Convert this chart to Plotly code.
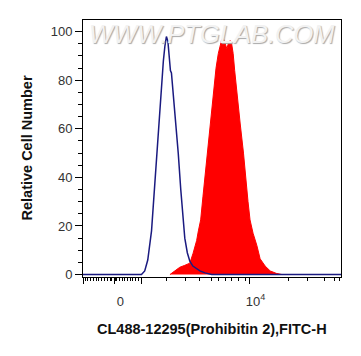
import plotly.graph_objects as go

# Display channel (0-1024 biexponential display) and relative cell number (%)
blue_channel = [0, 232, 245, 257, 272, 281, 294, 303, 312, 319, 325, 331, 337, 343, 347, 351, 357,
                365, 378, 388, 398, 404, 414, 424, 436, 448, 464, 484, 511, 1024]
blue_count = [0, 0, 1.5, 6, 18, 32, 50, 65, 77, 88, 94, 98, 96, 88, 84, 83, 76,
              65, 50, 35, 22.5, 15, 9, 5.5, 3.5, 2.5, 1.5, 0.7, 0, 0]

red_channel = [345, 365, 384, 404, 424, 437, 451, 458, 467, 476, 484, 493, 504, 512, 520, 528, 537,
               544, 550, 557, 564, 571, 578, 584, 590, 596, 602, 608, 616, 624, 637, 647, 655, 663,
               675, 690, 703, 723, 743, 767, 790]
red_count = [0, 1.5, 3, 3.8, 4.7, 8.8, 14, 18, 22.5, 32, 40, 50, 60, 70, 77.4, 85, 91,
             94, 96.5, 97.3, 95, 93, 95.5, 96.3, 95, 91, 84, 77.4, 70, 62, 50, 38, 30, 22.5,
             17, 12, 6.5, 3.5, 1.5, 0.5, 0]

x_label_vals = [124, 661]
x_label_text = ["0", "10<sup>4</sup>"]
x_unlabeled_major_vals = [0, 232]
x_minor_vals = [10, 19, 30, 42, 53, 63, 74, 86, 96, 108, 114, 128, 132, 143, 155, 165, 176, 188,
                198, 209, 221, 332, 407, 464, 511, 537, 564, 591, 617, 644, 814, 893, 959, 999, 1019]
y_major_vals = [0, 20, 40, 60, 80, 100]
y_major_text = ["0", "20", "40", "60", "80", "100"]

FONT = "Liberation Sans, Arial, sans-serif"

fig = go.Figure()
fig.add_trace(go.Scatter(x=red_channel, y=red_count, mode="lines", fill="tozeroy",
                         line=dict(color="#ff0000", width=1), fillcolor="#ff0000",
                         hoverinfo="skip", showlegend=False))
fig.add_trace(go.Scatter(x=blue_channel, y=blue_count, mode="lines",
                         line=dict(color="#1a1a80", width=1.5),
                         hoverinfo="skip", showlegend=False))
# invisible trace to activate the secondary (tick-only) x axis
fig.add_trace(go.Scatter(x=[], y=[], xaxis="x2", yaxis="y", showlegend=False, hoverinfo="skip"))

fig.update_layout(
    width=353, height=348,
    margin=dict(l=75, r=20, t=12, b=79),
    paper_bgcolor="white", plot_bgcolor="white",
    font=dict(family=FONT, color="#333"),
    xaxis=dict(range=[0, 1024], showgrid=False, zeroline=False,
               showline=True, linecolor="black", linewidth=1, mirror=True,
               ticks="outside", ticklen=6, tickwidth=1, tickcolor="black",
               tickmode="array", tickvals=x_label_vals, ticktext=x_label_text,
               tickfont=dict(size=13, color="#333", family=FONT),
               ticklabelshift=6, ticklabelstandoff=6,
               minor=dict(tickmode="array", tickvals=x_minor_vals, ticks="outside",
                          ticklen=3, tickwidth=1, tickcolor="black", showgrid=False)),
    xaxis2=dict(range=[0, 1024], overlaying="x", side="bottom", showgrid=False,
                zeroline=False, showline=False, ticks="outside", ticklen=6, tickwidth=1,
                tickcolor="black", tickmode="array", tickvals=x_unlabeled_major_vals,
                showticklabels=False),
    yaxis=dict(range=[-1, 104.8], showgrid=False, zeroline=False,
               showline=True, linecolor="black", linewidth=1, mirror=True,
               ticks="outside", ticklen=7, tickwidth=1, tickcolor="black",
               tickmode="array", tickvals=y_major_vals, ticktext=y_major_text,
               tickfont=dict(size=13, color="#333", family=FONT),
               minor=dict(dtick=5, tick0=0, ticks="outside", ticklen=4, tickwidth=1,
                          tickcolor="black", showgrid=False)),
    annotations=[
        dict(text="WWW.PTGLAB.COM", xref="paper", yref="paper", x=0.5, y=0.9455,
             xanchor="center", yanchor="middle", showarrow=False,
             font=dict(family=FONT, size=25.5, color="#f2f2f2", style="italic",
                       shadow="1px 1px 1px #a8a8a8")),
        dict(text="<b>CL488-12295(Prohibitin 2),FITC-H</b>", xref="paper", yref="paper",
             x=0.5, y=0, xanchor="center", yanchor="middle", yshift=-51.5, showarrow=False,
             font=dict(family=FONT, size=14.5, color="#111")),
        dict(text="<b>Relative Cell Number</b>", xref="paper", yref="paper",
             x=0, y=0.5, xanchor="center", yanchor="middle", xshift=-57, textangle=-90,
             showarrow=False, font=dict(family=FONT, size=14.5, color="#111")),
    ],
)

fig.write_html("out.html")
